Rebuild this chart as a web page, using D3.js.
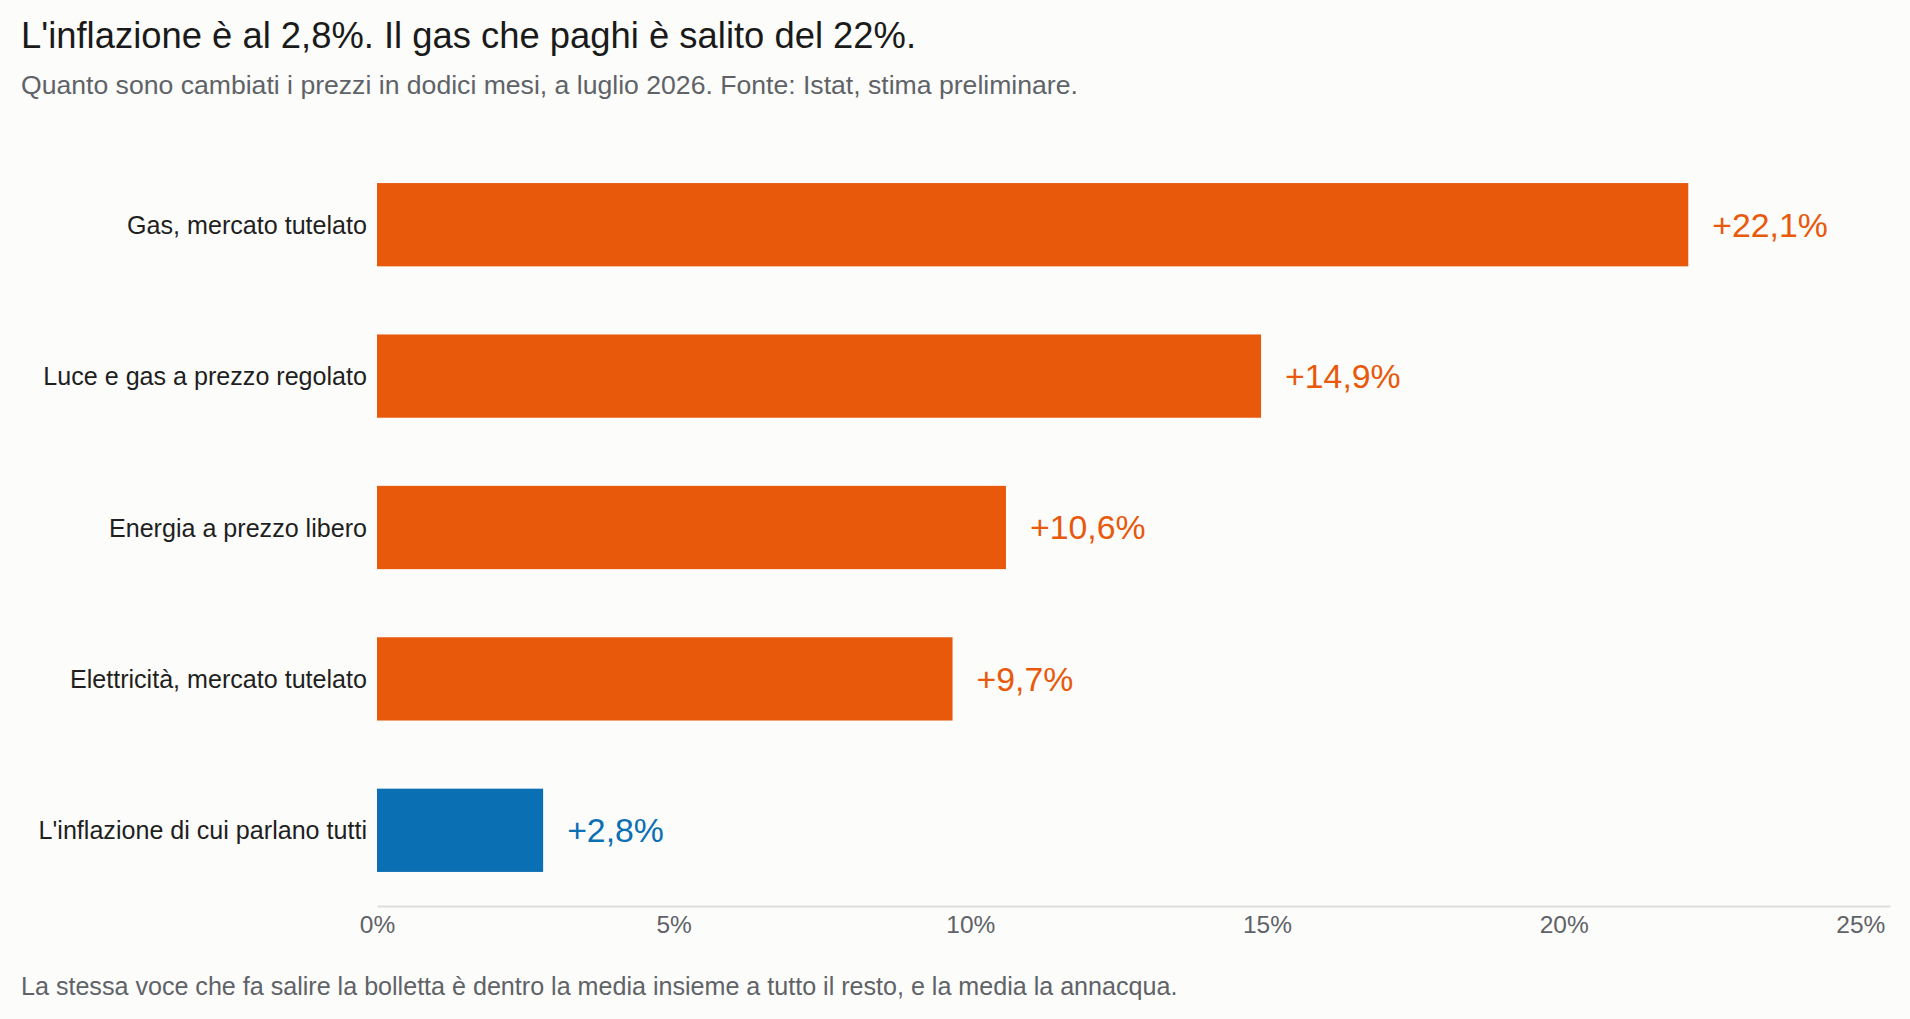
<!DOCTYPE html>
<html>
<head>
<meta charset="utf-8">
<script src="https://cdn.jsdelivr.net/npm/d3@7"></script>
<style>
  html, body { margin: 0; padding: 0; background: #fcfcfa; }
  svg { display: block; font-family: "Liberation Sans", Arial, Helvetica, sans-serif; }
</style>
</head>
<body>
<svg width="1910" height="1019"></svg>
<script>
// data
const categories = [
    'Gas, mercato tutelato',
    'Luce e gas a prezzo regolato',
    'Energia a prezzo libero',
    'Elettricità, mercato tutelato',
    "L'inflazione di cui parlano tutti"
];
const values = [22.1, 14.9, 10.6, 9.7, 2.8];
const highlight = [false, false, false, false, true];   // the headline figure gets the blue
const tickValues = [0, 5, 10, 15, 20, 25];

const title = "L'inflazione è al 2,8%. Il gas che paghi è salito del 22%.";
const subtitle = 'Quanto sono cambiati i prezzi in dodici mesi, a luglio 2026. Fonte: Istat, stima preliminare.';
const note = 'La stessa voce che fa salire la bolletta è dentro la media insieme a tutto il resto, e la media la annacqua.';

const width = 1910;
const height = 1019;
const margin = { top: 149, left: 377, right: 20, bottom: 113 };

const orange = '#e8590c';
const blue = '#0b6fb4';
const grey = '#5f6368';

const data = categories.map((c, i) => ({ name: c, value: values[i], hl: highlight[i] }));

const svg = d3.select('svg');

svg.append('rect')
    .attr('width', width)
    .attr('height', height)
    .attr('fill', '#fcfcfa');

// headings
svg.append('text')
    .attr('x', 21)
    .attr('y', 48)
    .attr('font-size', 36.4)
    .attr('fill', '#1a1a1a')
    .text(title);

svg.append('text')
    .attr('x', 21)
    .attr('y', 94)
    .attr('font-size', 26.6)
    .attr('fill', grey)
    .text(subtitle);

const xScale = d3.scaleLinear()
    .domain([0, 25.5])
    .range([margin.left, width - margin.right]);

const yScale = d3.scaleBand()
    .domain(categories)
    .range([margin.top, height - margin.bottom])
    .paddingInner(0.45)
    .paddingOuter(0.225);

// x-axis: just the baseline and the labels
const xAxis = svg.append('g')
    .attr('transform', `translate(0, ${height - margin.bottom})`)
    .call(d3.axisBottom(xScale)
        .tickValues(tickValues)
        .tickSize(0)
        .tickPadding(10)
        .tickFormat(d => d + '%'));

xAxis.select('.domain')
    .attr('stroke', '#dddddb')
    .attr('stroke-width', 2);

xAxis.selectAll('text')
    .attr('font-family', null)
    .attr('font-size', 24.5)
    .attr('fill', grey);

// category labels
svg.append('g')
    .selectAll('text')
    .data(data)
    .join('text')
    .attr('x', margin.left - 10)
    .attr('y', d => yScale(d.name) + yScale.bandwidth() / 2)
    .attr('dy', '0.36em')
    .attr('text-anchor', 'end')
    .attr('font-size', 25.1)
    .attr('fill', '#1f1f1f')
    .text(d => d.name);

// bars
svg.append('g')
    .selectAll('rect')
    .data(data)
    .join('rect')
    .attr('x', xScale(0))
    .attr('y', d => yScale(d.name))
    .attr('width', d => xScale(d.value) - xScale(0))
    .attr('height', yScale.bandwidth())
    .attr('fill', d => d.hl ? blue : orange);

// value labels
const fmt = d => '+' + d.toFixed(1).replace('.', ',') + '%';

svg.append('g')
    .selectAll('text')
    .data(data)
    .join('text')
    .attr('x', d => xScale(d.value) + 24)
    .attr('y', d => yScale(d.name) + yScale.bandwidth() / 2)
    .attr('dy', '0.35em')
    .attr('font-size', 33.8)
    .attr('fill', d => d.hl ? blue : orange)
    .text(d => fmt(d.value));

// closing note
svg.append('text')
    .attr('x', 21)
    .attr('y', 995)
    .attr('font-size', 25.1)
    .attr('fill', grey)
    .text(note);
</script>
</body>
</html>
